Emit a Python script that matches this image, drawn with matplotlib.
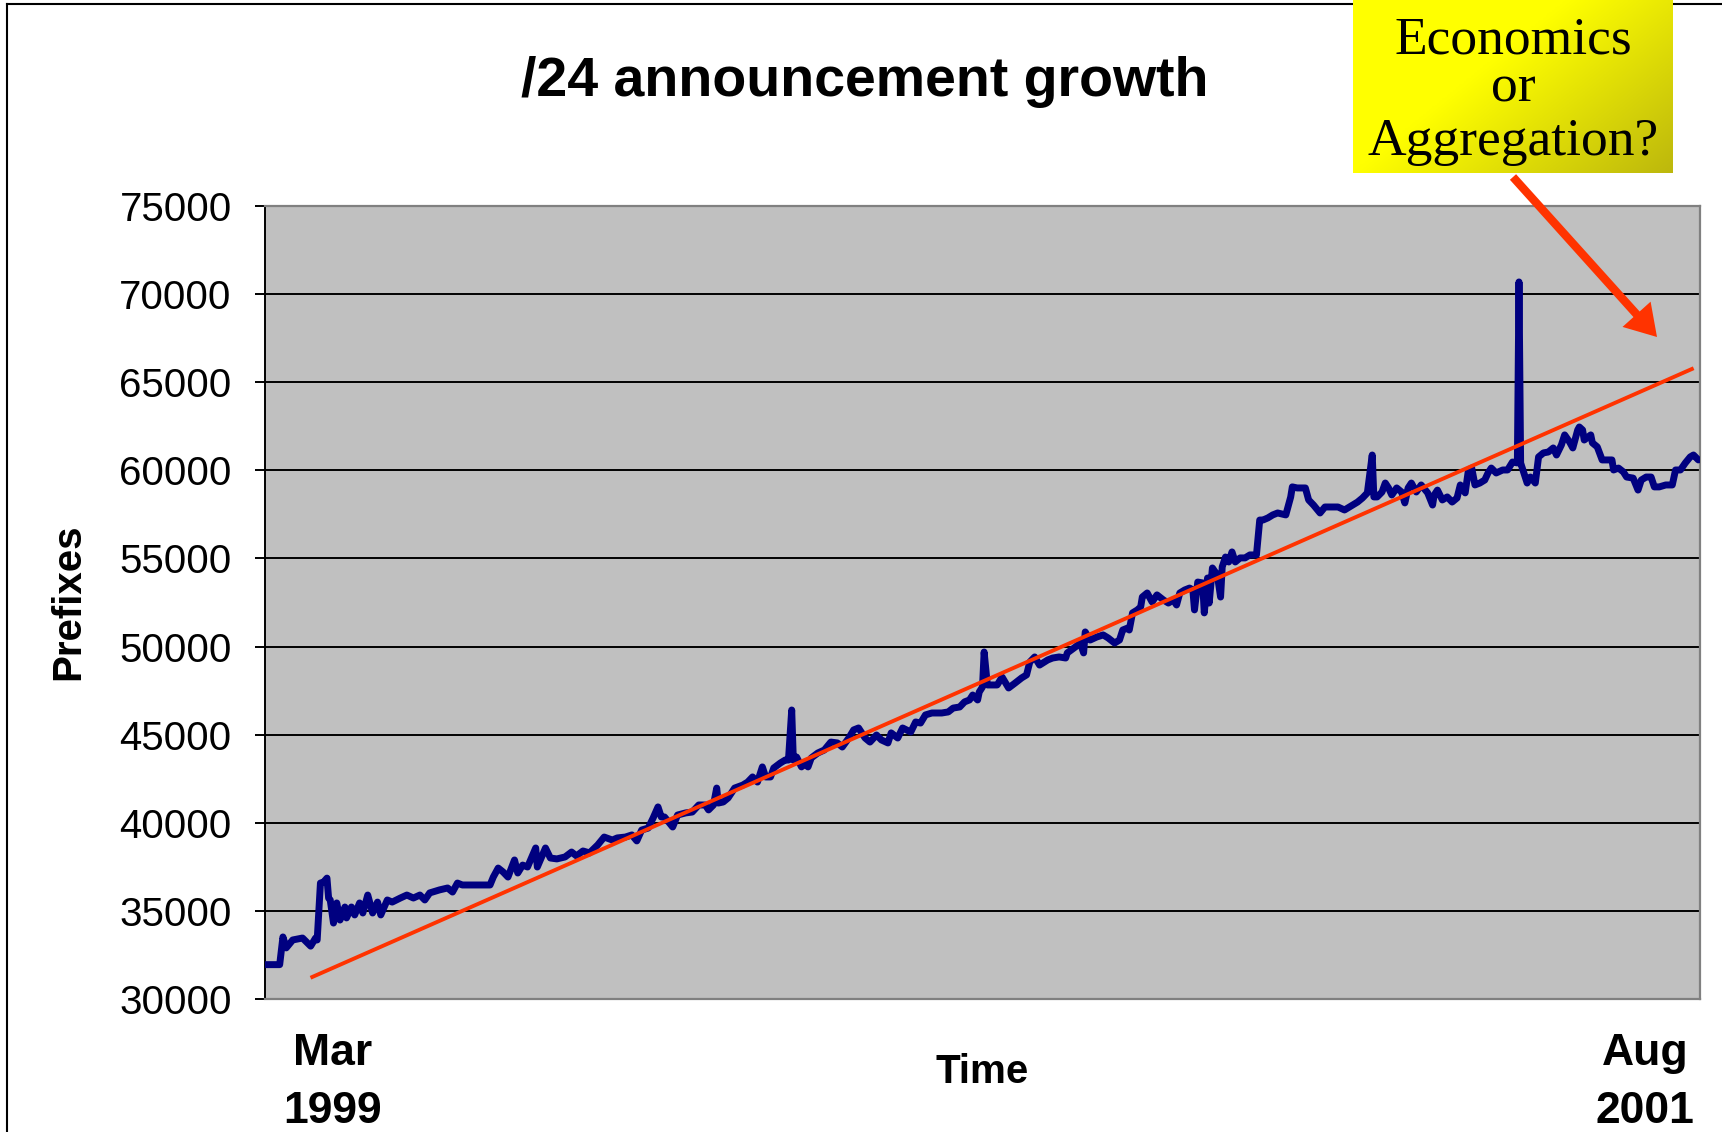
import numpy as np
import matplotlib
matplotlib.use("Agg")
from matplotlib import pyplot as plt
from matplotlib.lines import Line2D
from matplotlib.patches import FancyArrowPatch

# days since start of Mar 1999
days = [
    0, 9, 11, 13, 17, 23, 28, 31, 32, 34, 36, 38, 39, 40, 42, 44, 46, 49, 50, 53,
    55, 58, 60, 63, 66, 69, 71, 75, 78, 83, 87, 91, 95, 98, 101, 107, 112, 115, 118, 121,
    126, 131, 138, 140, 143, 146, 149, 153, 155, 158, 161, 166, 167, 172, 175, 179, 184, 188, 191, 195,
    199, 204, 208, 213, 216, 221, 225, 228, 231, 235, 238, 241, 243, 245, 250, 253, 258, 262, 266, 270,
    272, 275, 277, 278, 281, 284, 288, 293, 296, 299, 302, 305, 307, 310, 312, 316, 319, 321, 323, 324,
    326, 329, 331, 333, 335, 339, 343, 347, 351, 354, 358, 361, 364, 366, 368, 371, 375, 378, 382, 384,
    388, 391, 396, 399, 402, 405, 409, 415, 419, 422, 426, 429, 432, 434, 437, 438, 440, 441, 443, 446,
    449, 452, 456, 460, 464, 467, 469, 472, 475, 480, 483, 487, 491, 492, 497, 500, 502, 503, 506, 510,
    514, 517, 521, 524, 526, 529, 530, 532, 535, 537, 538, 541, 544, 547, 551, 554, 557, 559, 561, 564,
    567, 569, 570, 572, 575, 576, 578, 579, 581, 584, 586, 587, 589, 591, 593, 595, 598, 601, 604, 608,
    610, 612, 615, 618, 621, 626, 629, 630, 633, 638, 640, 643, 647, 650, 654, 658, 662, 667, 670, 673,
    676, 679, 680, 682, 685, 687, 689, 691, 694, 697, 699, 701, 703, 706, 709, 713, 716, 717, 719, 722,
    725, 728, 731, 733, 736, 738, 740, 742, 745, 748, 750, 752, 755, 759, 762, 765, 768, 769, 770, 771,
    774, 776, 779, 781, 784, 787, 790, 792, 795, 797, 800, 802, 805, 806, 808, 809, 813, 814, 817, 820,
    823, 826, 827, 830, 833, 835, 839, 842, 844, 847, 850, 852, 855, 859, 863, 865, 868, 871, 874, 876,
    879,
]
prefixes = [
    31950, 31950, 33520, 32900, 33350, 33460, 33000, 33460, 33350, 36580, 36640, 36860, 35730, 35620, 34310, 35450, 34480, 35220, 34600, 35220,
    34770, 35450, 34880, 35900, 34880, 35500, 34770, 35620, 35500, 35730, 35900, 35730, 35900, 35620, 36020, 36190, 36300, 36070, 36580, 36470,
    36470, 36470, 36470, 36920, 37430, 37210, 36920, 37890, 37150, 37600, 37490, 38570, 37490, 38570, 38000, 37950, 38060, 38340, 38120, 38400,
    38290, 38740, 39190, 39020, 39140, 39190, 39310, 38970, 39590, 39700, 40270, 40900, 40330, 40330, 39760, 40440, 40560, 40610, 41010, 41010,
    40730, 41010, 41970, 41120, 41180, 41410, 41970, 42140, 42310, 42600, 42310, 43170, 42600, 42600, 43110, 43390, 43560, 43560, 46400, 43560,
    43730, 43170, 43390, 43170, 43680, 43960, 44130, 44580, 44530, 44300, 44810, 45270, 45380, 45100, 44810, 44580, 44980, 44700, 44530, 45100,
    44810, 45380, 45150, 45720, 45660, 46120, 46230, 46230, 46290, 46510, 46570, 46860, 46970, 47250, 46970, 47420, 47710, 49690, 47820, 47820,
    47820, 48270, 47650, 47930, 48220, 48390, 49120, 49410, 48950, 49240, 49350, 49410, 49350, 49640, 49980, 50200, 49640, 50830, 50370, 50540,
    50660, 50490, 50200, 50370, 50940, 51050, 50940, 51910, 52080, 52250, 52810, 53040, 52530, 52930, 52640, 52470, 52640, 52360, 53040, 53210,
    53320, 53210, 52080, 53660, 53610, 51910, 53890, 52470, 54460, 54060, 52810, 54520, 55080, 54800, 55370, 54800, 55030, 55030, 55200, 55200,
    57180, 57180, 57300, 57470, 57580, 57470, 58490, 59060, 59000, 59000, 58320, 58030, 57580, 57920, 57920, 57920, 57750, 58030, 58200, 58430,
    58720, 60870, 58490, 58490, 58770, 59280, 59000, 58600, 59000, 58770, 58150, 59000, 59280, 58770, 59170, 58720, 58030, 58600, 58880, 58320,
    58490, 58200, 58430, 59170, 58720, 60020, 60130, 59170, 59280, 59450, 59850, 60130, 59850, 60020, 60020, 60470, 60420, 70690, 60420, 60130,
    59280, 59620, 59280, 60760, 60990, 61040, 61270, 60870, 61440, 62010, 61610, 61270, 62290, 62460, 62290, 61720, 62010, 61560, 61330, 60590,
    60590, 60590, 60020, 60130, 59910, 59620, 59560, 58880, 59450, 59620, 59620, 59060, 59060, 59170, 59170, 60020, 60020, 60420, 60760, 60870,
    60590,
]
trend_days = [29, 875]
trend_prefixes = [31250, 65750]
y_ticks = [30000, 35000, 40000, 45000, 50000, 55000, 60000, 65000, 70000, 75000]
title = "/24 announcement growth"
start_label = ["Mar", "1999"]
end_label = ["Aug", "2001"]
note_lines = ["Economics", "or", "Aggregation?"]

W, H = 1722, 1132
SANS = "Liberation Sans"
SERIF = "Liberation Serif"


def fx(px):
    return px / W


def fy(py):
    return 1 - py / H


fig = plt.figure(figsize=(W / 100, H / 100), dpi=100)

ax = fig.add_axes([fx(265), fy(999), fx(1700) - fx(265), fy(206) - fy(999)])
ax.set_facecolor("#c0c0c0")
ax.plot(days, prefixes, color="#000080", lw=5,
        solid_joinstyle="round", solid_capstyle="round", zorder=3)
ax.plot(trend_days, trend_prefixes, color="#ff3300", lw=2.8, zorder=4)
ax.set_xlim(0, 880)
ax.set_ylim(30000, 75000)
ax.set_yticks(y_ticks)
ax.yaxis.grid(True, color="black", lw=1.4)
ax.set_axisbelow(True)
ax.set_xticks([])
ax.tick_params(axis="y", length=7, width=1.4, pad=17, labelsize=29)
for lbl in ax.get_yticklabels():
    lbl.set_fontfamily(SANS)
ax.spines["left"].set_color("black")
ax.spines["left"].set_linewidth(1.4)
for side in ["top", "right", "bottom"]:
    ax.spines[side].set_color("#808080")
    ax.spines[side].set_linewidth(1.6)

# text around the chart
fig.text(fx(865), fy(96), title, ha="center", va="baseline",
         fontsize=40, fontweight="bold", family=SANS)
fig.text(fx(68), fy(602), "Prefixes", rotation=90, ha="center", va="center",
         fontsize=29, fontweight="bold", family=SANS)
fig.text(fx(982), fy(1083), "Time", ha="center", va="baseline",
         fontsize=29, fontweight="bold", family=SANS)
for i, (a, b) in enumerate(zip(start_label, end_label)):
    base = [1065, 1123][i]
    fig.text(fx(333), fy(base), a, ha="center", va="baseline",
             fontsize=32, fontweight="bold", family=SANS)
    fig.text(fx(1645), fy(base), b, ha="center", va="baseline",
             fontsize=32, fontweight="bold", family=SANS)

# frame lines of the slide
fig.add_artist(Line2D([fx(7), fx(7)], [0, fy(4)], transform=fig.transFigure,
                      color="black", lw=1.5, zorder=0))
fig.add_artist(Line2D([fx(7), 1], [fy(4), fy(4)], transform=fig.transFigure,
                      color="black", lw=1.5, zorder=0))

# yellow note box with a soft shade
box = fig.add_axes([fx(1353), fy(173), fx(1673) - fx(1353), fy(0) - fy(173)])
box.set_zorder(2)
gx = np.linspace(0, 1, 200)
gy = np.linspace(0, 1, 110)
t = gx[None, :] * 0.6 + gy[:, None] * 0.4
shade = np.clip((t - 0.4) / 0.6, 0, 1)
img = np.dstack([1 - 0.26 * shade, 1 - 0.28 * shade, 0.05 * shade])
box.imshow(img, aspect="auto", extent=[0, 1, 0, 1])
box.axis("off")
for line, base in zip(note_lines, [53, 102, 155]):
    fig.text(fx(1513), fy(base), line, ha="center", va="baseline",
             fontsize=38.5, family=SERIF, zorder=5)

arrow = FancyArrowPatch((fx(1513), fy(177)), (fx(1657), fy(337)),
                        transform=fig.transFigure,
                        arrowstyle="simple,head_length=0.55,head_width=0.68,tail_width=0.15",
                        mutation_scale=40, color="#ff3300", lw=0,
                        shrinkA=0, shrinkB=0, zorder=4)
fig.add_artist(arrow)

fig.savefig("out.png", dpi=100)
